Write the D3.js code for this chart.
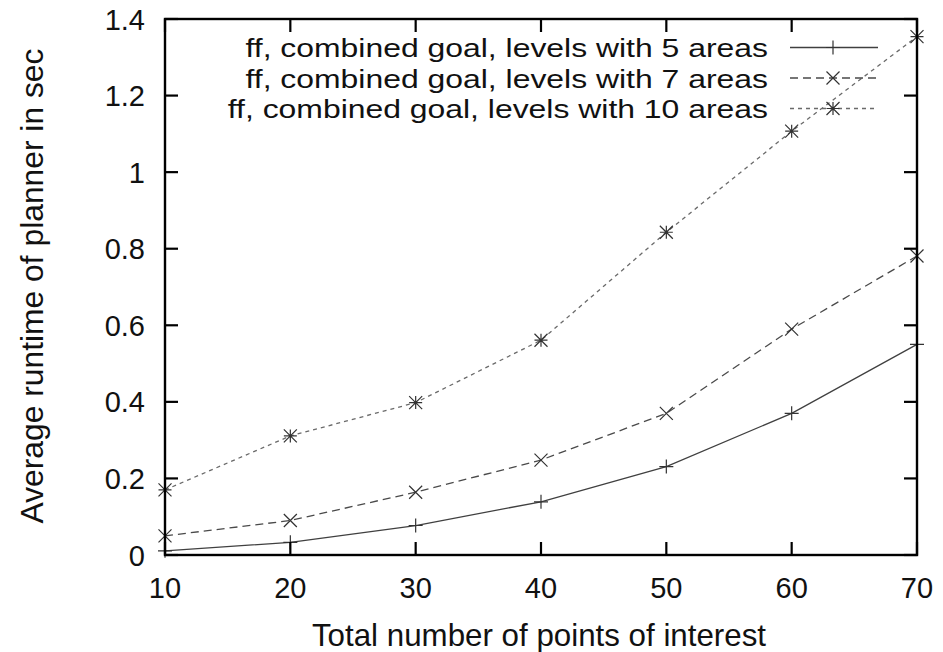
<!DOCTYPE html>
<html>
<head>
<meta charset="utf-8">
<script src="https://cdn.jsdelivr.net/npm/d3@7"></script>
<style>
  html, body { margin: 0; padding: 0; background: #fff; }
  svg { display: block; font-family: "Liberation Sans", Arial, Helvetica, sans-serif; }
</style>
</head>
<body>
<svg id="chart" width="943" height="652"></svg>
<script>
// Number of points of interest per level
const poiCounts = [10, 20, 30, 40, 50, 60, 70];

// Average planner runtime (seconds) for each level size
const runtime5Areas  = [0.011, 0.033, 0.077, 0.139, 0.231, 0.370, 0.550];
const runtime7Areas  = [0.050, 0.090, 0.164, 0.248, 0.370, 0.590, 0.781];
const runtime10Areas = [0.170, 0.311, 0.398, 0.561, 0.843, 1.107, 1.354];

const seriesLabels = [
  "ff, combined goal, levels with 5 areas",
  "ff, combined goal, levels with 7 areas",
  "ff, combined goal, levels with 10 areas"
];

const xTicks = [10, 20, 30, 40, 50, 60, 70];
const yTicks = [0, 0.2, 0.4, 0.6, 0.8, 1, 1.2, 1.4];

const xTitle = "Total number of points of interest";
const yTitle = "Average runtime of planner in sec";

const svg = d3.select("#chart");
const plotLeft = 165, plotRight = 917, plotTop = 19, plotBottom = 555;

const x = d3.scaleLinear().domain([10, 70]).range([plotLeft, plotRight]);
const y = d3.scaleLinear().domain([0, 1.4]).range([plotBottom, plotTop]);

const styles = [
  { dash: null,  color: "#404040", marker: "plus" },
  { dash: "8,5", color: "#4a4a4a", marker: "cross" },
  { dash: "4,4", color: "#6a6a6a", marker: "star" }
];
const allSeries = [runtime5Areas, runtime7Areas, runtime10Areas];

// Marker shapes drawn as small path strings around (0,0)
function markerPath(kind, s) {
  const plus = `M${-s},0H${s}M0,${-s}V${s}`;
  const cross = `M${-s},${-s}L${s},${s}M${-s},${s}L${s},${-s}`;
  if (kind === "plus") return plus;
  if (kind === "cross") return cross;
  return plus + cross;
}

// Data lines and markers
const line = d3.line().x((d, i) => x(poiCounts[i])).y(d => y(d));
allSeries.forEach((vals, k) => {
  const st = styles[k];
  svg.append("path")
    .datum(vals)
    .attr("d", line)
    .attr("fill", "none")
    .attr("stroke", st.color)
    .attr("stroke-width", 1.3)
    .attr("stroke-dasharray", st.dash);
  svg.append("g").selectAll("path")
    .data(vals)
    .join("path")
    .attr("transform", (d, i) => `translate(${x(poiCounts[i])},${y(d)})`)
    .attr("d", markerPath(st.marker, st.marker === "plus" ? 7 : 6.5))
    .attr("fill", "none")
    .attr("stroke", "#333")
    .attr("stroke-width", 1.2);
});

// Inward ticks on all four sides
const tickLen = 13;
const axisG = svg.append("g").attr("stroke", "#000").attr("stroke-width", 2.2);
xTicks.forEach(t => {
  axisG.append("line").attr("x1", x(t)).attr("x2", x(t)).attr("y1", plotBottom).attr("y2", plotBottom - tickLen);
  axisG.append("line").attr("x1", x(t)).attr("x2", x(t)).attr("y1", plotTop).attr("y2", plotTop + tickLen);
});
yTicks.forEach(t => {
  axisG.append("line").attr("x1", plotLeft).attr("x2", plotLeft + tickLen).attr("y1", y(t)).attr("y2", y(t));
  axisG.append("line").attr("x1", plotRight).attr("x2", plotRight - tickLen).attr("y1", y(t)).attr("y2", y(t));
});

// Frame
svg.append("rect")
  .attr("x", plotLeft).attr("y", plotTop)
  .attr("width", plotRight - plotLeft).attr("height", plotBottom - plotTop)
  .attr("fill", "none").attr("stroke", "#000").attr("stroke-width", 2.4);

// Tick labels
svg.append("g").selectAll("text")
  .data(xTicks).join("text")
  .attr("x", d => x(d)).attr("y", 598)
  .attr("text-anchor", "middle")
  .attr("font-size", 29)
  .attr("fill", "#111")
  .text(d => d);

svg.append("g").selectAll("text")
  .data(yTicks).join("text")
  .attr("x", 145).attr("y", d => y(d) + 10.5)
  .attr("text-anchor", "end")
  .attr("font-size", 29)
  .attr("fill", "#111")
  .text(d => d);

// Axis titles
svg.append("text")
  .attr("x", 539).attr("y", 646)
  .attr("text-anchor", "middle")
  .attr("font-size", 31.3)
  .attr("fill", "#111")
  .text(xTitle);

svg.append("text")
  .attr("transform", "translate(43,286) rotate(-90)")
  .attr("text-anchor", "middle")
  .attr("font-size", 31.8)
  .attr("fill", "#111")
  .text(yTitle);

// Legend: slightly condensed-height text, widened to the key's column width
const legendBaselines = [57, 87.5, 118];
const legendFont = 26.5, legendWiden = 31.9 / 26.5;
seriesLabels.forEach((label, k) => {
  const st = styles[k];
  const base = legendBaselines[k];
  const ly = base - 9.5;
  const t = svg.append("text")
    .attr("x", 768).attr("y", base)
    .attr("text-anchor", "end")
    .attr("font-size", legendFont)
    .attr("fill", "#111")
    .text(label);
  const natural = t.node().getComputedTextLength();
  t.attr("textLength", natural * legendWiden).attr("lengthAdjust", "spacingAndGlyphs");
  svg.append("line")
    .attr("x1", 790).attr("x2", 878).attr("y1", ly).attr("y2", ly)
    .attr("stroke", st.color).attr("stroke-width", 1.3)
    .attr("stroke-dasharray", st.dash);
  svg.append("path")
    .attr("transform", `translate(833,${ly})`)
    .attr("d", markerPath(st.marker, st.marker === "plus" ? 7 : 6.5))
    .attr("fill", "none").attr("stroke", "#333").attr("stroke-width", 1.2);
});
</script>
</body>
</html>
